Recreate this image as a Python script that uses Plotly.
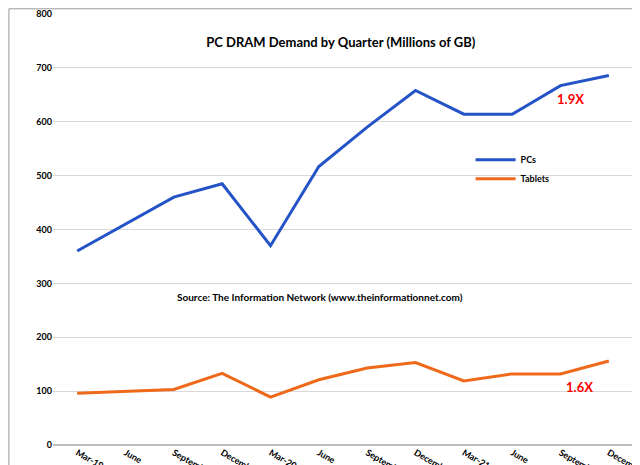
import plotly.graph_objects as go

quarters = ["Mar-19","June","September","December","Mar-20","June ","September ","December ","Mar-21","June  ","September  ","December  "]
pcs = [360, 410, 460, 485, 370, 517, 590, 658, 614, 614, 667, 686]
tablets = [96, 99, 103, 133, 89, 121, 143, 153, 119, 132, 132, 156]

fig = go.Figure()
fig.add_trace(go.Scatter(x=quarters, y=pcs, mode="lines", name="<b>PCs</b>",
                         line=dict(color="#2353C6", width=3)))
fig.add_trace(go.Scatter(x=quarters, y=tablets, mode="lines", name="<b>Tablets</b>",
                         line=dict(color="#EE6A1A", width=3)))
fig.update_layout(
    width=640, height=465, paper_bgcolor="white", plot_bgcolor="white",
    margin=dict(l=45, r=15, t=6, b=28, autoexpand=False),
    font=dict(family="Lato", size=9, color="black"),
    title=dict(text="<b>PC DRAM Demand by Quarter (Millions of GB)</b>", x=0.52, y=0.935,
               xanchor="center", font=dict(size=13)),
    legend=dict(x=0.72, y=0.64, bgcolor="rgba(0,0,0,0)", font=dict(size=9),
                tracegroupgap=18, itemwidth=40),
    xaxis=dict(range=[-0.5, 11.5], tickfont=dict(size=9), showgrid=False, showline=False,
               ticks="", tickprefix="<b>", ticksuffix="</b>"),
    yaxis=dict(range=[0, 800], dtick=100, gridcolor="#D9D9D9", zeroline=True,
               zerolinecolor="#BFBFBF", tickfont=dict(size=9),
               tickprefix="<b>", ticksuffix="</b>"),
    shapes=[dict(type="rect", xref="paper", yref="paper", x0=-0.076, x1=1.024, y0=-0.063, y1=1.012,
                 line=dict(color="#999", width=1))],
    annotations=[
        dict(text="<b>Source: The Information Network (www.theinformationnet.com)</b>",
             xref="paper", yref="paper", x=0.46, y=0.325, showarrow=False, font=dict(size=10)),
        dict(text="<b>1.9X</b>", x=10.2, y=643, showarrow=False, font=dict(size=13, color="red")),
        dict(text="<b>1.6X</b>", x=10.4, y=108, showarrow=False, font=dict(size=13, color="red")),
    ],
)
fig.write_html("out.html")
